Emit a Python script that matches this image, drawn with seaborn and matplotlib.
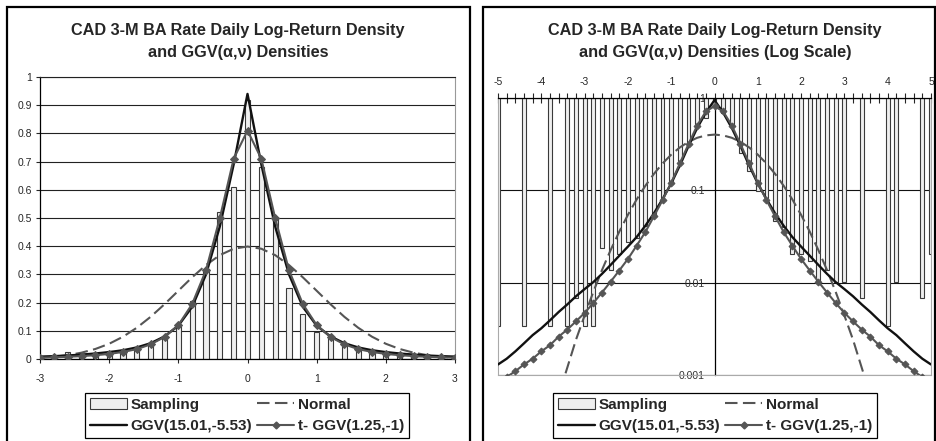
import numpy as np
import pandas as pd
import seaborn as sns
import matplotlib.pyplot as plt
from matplotlib.patches import Rectangle
from matplotlib.lines import Line2D
from matplotlib.ticker import FixedLocator, MultipleLocator, FuncFormatter, NullLocator

# Categorias: retorno padronizado de -5 a 5, passo 0.2
x = np.round(np.linspace(-5, 5, 51), 1)

# Densidade amostral (histograma)
amostra = [0.0034, 0, 0, 0.0034, 0, 0, 0.0034, 0, 0.0034, 0.0068,
           0.0034, 0.0034, 0.0238, 0.0136, 0.0204, 0.0272, 0.0306, 0.0408, 0.0510, 0.0780,
           0.1170, 0.2050, 0.3200, 0.5200, 0.6100, 0.9200, 0.6800, 0.5000, 0.2530, 0.1600,
           0.0970, 0.0820, 0.0460, 0.0400, 0.0204, 0.0204, 0.0170, 0.0102, 0.0136, 0.0102,
           0.0102, 0, 0.0068, 0, 0, 0.0034, 0.0102, 0, 0, 0.0068, 0.0204]

normal = [0.0000015, 0.000004, 0.00001, 0.00002, 0.00006, 0.00013, 0.0003, 0.0006, 0.0012, 0.0024,
          0.0044, 0.0079, 0.0136, 0.0224, 0.0355, 0.0540, 0.0790, 0.1109, 0.1497, 0.1942,
          0.2420, 0.2897, 0.3332, 0.3683, 0.3910, 0.3989, 0.3910, 0.3683, 0.3332, 0.2897,
          0.2420, 0.1942, 0.1497, 0.1109, 0.0790, 0.0540, 0.0355, 0.0224, 0.0136, 0.0079,
          0.0044, 0.0024, 0.0012, 0.0006, 0.0003, 0.00013, 0.00006, 0.00002, 0.00001, 0.000004,
          0.0000015]

ggv = [0.0013, 0.0015, 0.0018, 0.0022, 0.0027, 0.0032, 0.0039, 0.0048, 0.0058, 0.0071,
       0.0085, 0.0101, 0.0124, 0.0155, 0.0195, 0.0245, 0.031, 0.041, 0.056, 0.080,
       0.118, 0.185, 0.30, 0.47, 0.69, 0.94, 0.69, 0.47, 0.30, 0.185,
       0.118, 0.080, 0.056, 0.041, 0.031, 0.0245, 0.0195, 0.0155, 0.0124, 0.0101,
       0.0085, 0.0071, 0.0058, 0.0048, 0.0039, 0.0032, 0.0027, 0.0022, 0.0018, 0.0015,
       0.0013]

t_ggv = [0.0008, 0.00095, 0.0011, 0.0013, 0.0015, 0.0018, 0.0021, 0.0026, 0.0031, 0.0038,
         0.0047, 0.0060, 0.0078, 0.0102, 0.0135, 0.018, 0.025, 0.035, 0.052, 0.078,
         0.12, 0.195, 0.315, 0.50, 0.71, 0.81, 0.71, 0.50, 0.315, 0.195,
         0.12, 0.078, 0.052, 0.035, 0.025, 0.018, 0.0135, 0.0102, 0.0078, 0.0060,
         0.0047, 0.0038, 0.0031, 0.0026, 0.0021, 0.0018, 0.0015, 0.0013, 0.0011, 0.00095,
         0.0008]

legendas = ['Sampling', 'GGV(15.01,-5.53)', 'Normal', 't- GGV(1.25,-1)']
titulo = 'CAD 3-M BA Rate Daily Log-Return Density'
sub_esq = 'and GGV(α,ν) Densities'
sub_dir = 'and GGV(α,ν) Densities (Log Scale)'

df = pd.DataFrame({'x': x, 'amostra': amostra, 'normal': normal, 'ggv': ggv, 't_ggv': t_ggv})

sns.set_style('white')
plt.rcParams['font.family'] = ['Liberation Sans', 'DejaVu Sans']
plt.rcParams['axes.unicode_minus'] = False

W, H = 936, 441
fig = plt.figure(figsize=(W / 100, H / 100), dpi=100)


def caixa(esq, topo, dir, base):
    return [esq / W, 1 - base / H, (dir - esq) / W, (base - topo) / H]


cor_barra = '#efefef'
cor_borda = '#3a3a3a'
cinza = '#555555'
tracejado = (0, (6, 2.6))

# ---------- painel esquerdo (escala linear) ----------
ax1 = fig.add_axes(caixa(40, 77, 455, 359))
esq = df[(df.x >= -3) & (df.x <= 3)]
ax1.bar(esq.x, esq.amostra, width=0.075, color=cor_barra, edgecolor=cor_borda, linewidth=0.8, zorder=1)
sns.lineplot(data=esq, x='x', y='normal', ax=ax1, color=cinza, lw=1.5, linestyle=tracejado, zorder=3)
sns.lineplot(data=esq, x='x', y='ggv', ax=ax1, color='#111111', lw=1.7, zorder=4)
sns.lineplot(data=esq, x='x', y='t_ggv', ax=ax1, color=cinza, lw=1.5, marker='D', markersize=4,
             markeredgecolor=cinza, zorder=5)
ax1.set_xlim(-3, 3)
ax1.set_ylim(0, 1)
ax1.set_xlabel('')
ax1.set_ylabel('')
ax1.set_axisbelow(True)
ax1.yaxis.set_major_locator(MultipleLocator(0.1))
ax1.yaxis.set_major_formatter(FuncFormatter(lambda v, _: f'{v:.1f}'.rstrip('0').rstrip('.') if v else '0'))
ax1.xaxis.set_major_locator(MultipleLocator(1))
ax1.xaxis.set_major_formatter(FuncFormatter(lambda v, _: f'{v:.0f}'))
ax1.grid(axis='y', color='#222222', lw=0.8)
ax1.tick_params(axis='y', left=True, length=3, width=0.8, pad=3, labelsize=7.5)
ax1.tick_params(axis='x', bottom=True, length=3, width=0.8, pad=8, labelsize=7.5)
for lado in ['left', 'bottom']:
    ax1.spines[lado].set_color('black')
    ax1.spines[lado].set_linewidth(0.9)
ax1.spines['top'].set_color('#222222')
ax1.spines['top'].set_linewidth(0.8)
ax1.spines['right'].set_color('#999999')
ax1.spines['right'].set_linewidth(0.8)

# ---------- painel direito (escala log) ----------
ax2 = fig.add_axes(caixa(498, 97.7, 931, 375))
ax2.set_yscale('log')
com_dados = df[df.amostra > 0]
ax2.bar(com_dados.x, com_dados.amostra - 1, bottom=1, width=0.09, color=cor_barra,
        edgecolor=cor_borda, linewidth=0.8, zorder=1)
sns.lineplot(data=df, x='x', y='normal', ax=ax2, color=cinza, lw=1.5, linestyle=tracejado, zorder=3)
sns.lineplot(data=df, x='x', y='ggv', ax=ax2, color='#111111', lw=1.7, zorder=4)
sns.lineplot(data=df, x='x', y='t_ggv', ax=ax2, color=cinza, lw=1.5, marker='D', markersize=3.5,
             markeredgecolor=cinza, zorder=5)
ax2.set_xlim(-5, 5)
ax2.set_ylim(0.001, 1)
ax2.set_xlabel('')
ax2.set_ylabel('')
ax2.set_axisbelow(True)
ax2.yaxis.set_major_locator(FixedLocator([0.001, 0.01, 0.1, 1]))
ax2.yaxis.set_minor_locator(NullLocator())
ax2.yaxis.set_major_formatter(FuncFormatter(lambda v, _: f'{v:g}'))
ax2.grid(axis='y', which='major', color='#111111', lw=0.8)
ax2.spines['left'].set_position(('data', 0))
ax2.spines['left'].set_color('black')
ax2.spines['left'].set_linewidth(0.9)
ax2.tick_params(axis='y', which='both', length=0, pad=7, labelsize=7.5, labelcolor='#333333')
ax2.xaxis.tick_top()
ax2.xaxis.set_major_locator(MultipleLocator(1))
ax2.xaxis.set_minor_locator(MultipleLocator(0.2))
ax2.xaxis.set_major_formatter(FuncFormatter(lambda v, _: f'{v:.0f}'))
ax2.tick_params(axis='x', which='both', direction='inout', length=7, width=0.8, top=True, bottom=False,
                labeltop=True, labelbottom=False, pad=4, labelsize=7.5)
ax2.spines['top'].set_color('black')
ax2.spines['top'].set_linewidth(0.9)
for lado in ['bottom', 'right']:
    ax2.spines[lado].set_color('#aaaaaa')
    ax2.spines[lado].set_linewidth(0.8)
ax2.add_line(Line2D([0, 0], [0, 1], transform=ax2.transAxes, color='#aaaaaa', lw=0.8, clip_on=False))

# ---------- títulos, legendas e molduras ----------
for cx, sub in [(238, sub_esq), (715, sub_dir)]:
    fig.text(cx / W, 1 - 31 / H, titulo, ha='center', va='center', fontsize=11.7, fontweight='bold')
    fig.text(cx / W, 1 - 52 / H, sub, ha='center', va='center', fontsize=11.7, fontweight='bold')

for cx in [247, 715]:
    alcas = [Rectangle((0, 0), 1, 1, facecolor=cor_barra, edgecolor=cor_borda, lw=0.8),
             Line2D([], [], color='#111111', lw=1.7),
             Line2D([], [], color=cinza, lw=1.5, linestyle=tracejado),
             Line2D([], [], color=cinza, lw=1.5, marker='D', markersize=3.5)]
    leg = fig.legend(alcas, legendas, ncol=2, loc='upper center', bbox_to_anchor=(cx / W, 1 - 393 / H),
                     frameon=True, fancybox=False, edgecolor='black', framealpha=1,
                     prop={'weight': 'bold', 'size': 11}, handlelength=2.4, handletextpad=0.25,
                     columnspacing=0.35, labelspacing=0.5, borderpad=0.3, borderaxespad=0)
    leg.get_frame().set_linewidth(0.9)

for x0, x1 in [(7, 470), (483, 935)]:
    fig.add_artist(Rectangle((x0 / W, -0.02), (x1 - x0) / W, (H - 7) / H + 0.02, transform=fig.transFigure,
                             fill=False, edgecolor='black', lw=1.6))

plt.savefig('out.png', dpi=100)
